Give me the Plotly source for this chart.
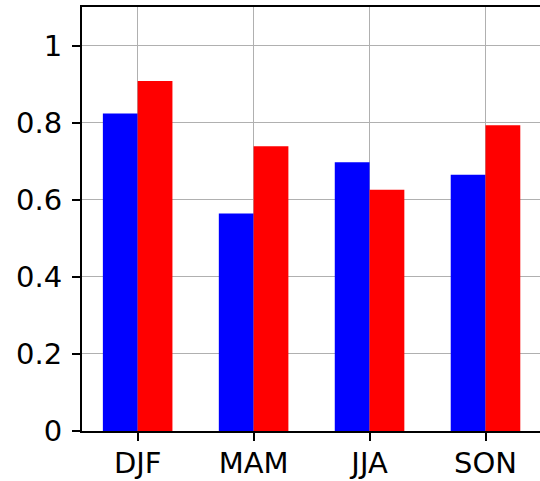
import plotly.graph_objects as go

seasons = ["DJF", "MAM", "JJA", "SON"]
blue_vals = [0.824, 0.564, 0.697, 0.665]
red_vals = [0.908, 0.739, 0.626, 0.793]

fig = go.Figure()
fig.add_trace(go.Bar(x=seasons, y=blue_vals, marker=dict(color="#0000ff", line=dict(width=0))))
fig.add_trace(go.Bar(x=seasons, y=red_vals, marker=dict(color="#ff0000", line=dict(width=0))))

font = dict(family="DejaVu Sans", size=29, color="black")

fig.update_layout(
    width=540, height=481,
    margin=dict(l=82, r=0, t=7, b=50),
    barmode="group", bargap=0.4, bargroupgap=0,
    showlegend=False,
    plot_bgcolor="white", paper_bgcolor="white",
    font=font,
)
fig.update_xaxes(
    type="category", range=[-0.48, 3.47], automargin=False,
    showline=True, linecolor="black", linewidth=2, mirror=True,
    ticks="outside", ticklen=8, tickwidth=2, tickcolor="black",
    showgrid=True, gridcolor="#b0b0b0", gridwidth=1,
    tickfont=font, ticklabelstandoff=-3,
)
fig.update_yaxes(
    range=[0, 1.1], tickvals=[0, 0.2, 0.4, 0.6, 0.8, 1],
    ticktext=["0", "0.2", "0.4", "0.6", "0.8", "1"], automargin=False,
    showline=True, linecolor="black", linewidth=2,
    ticks="outside", ticklen=8, tickwidth=2, tickcolor="black",
    showgrid=True, gridcolor="#b0b0b0", gridwidth=1, zeroline=False,
    tickfont=font, ticklabelstandoff=4,
)

# drop the default body margin so the figure sits at the window's corner
fig.write_html(
    "out.html",
    config={"displayModeBar": False},
    post_script="document.body.style.margin='0';document.body.style.overflow='hidden';",
)
